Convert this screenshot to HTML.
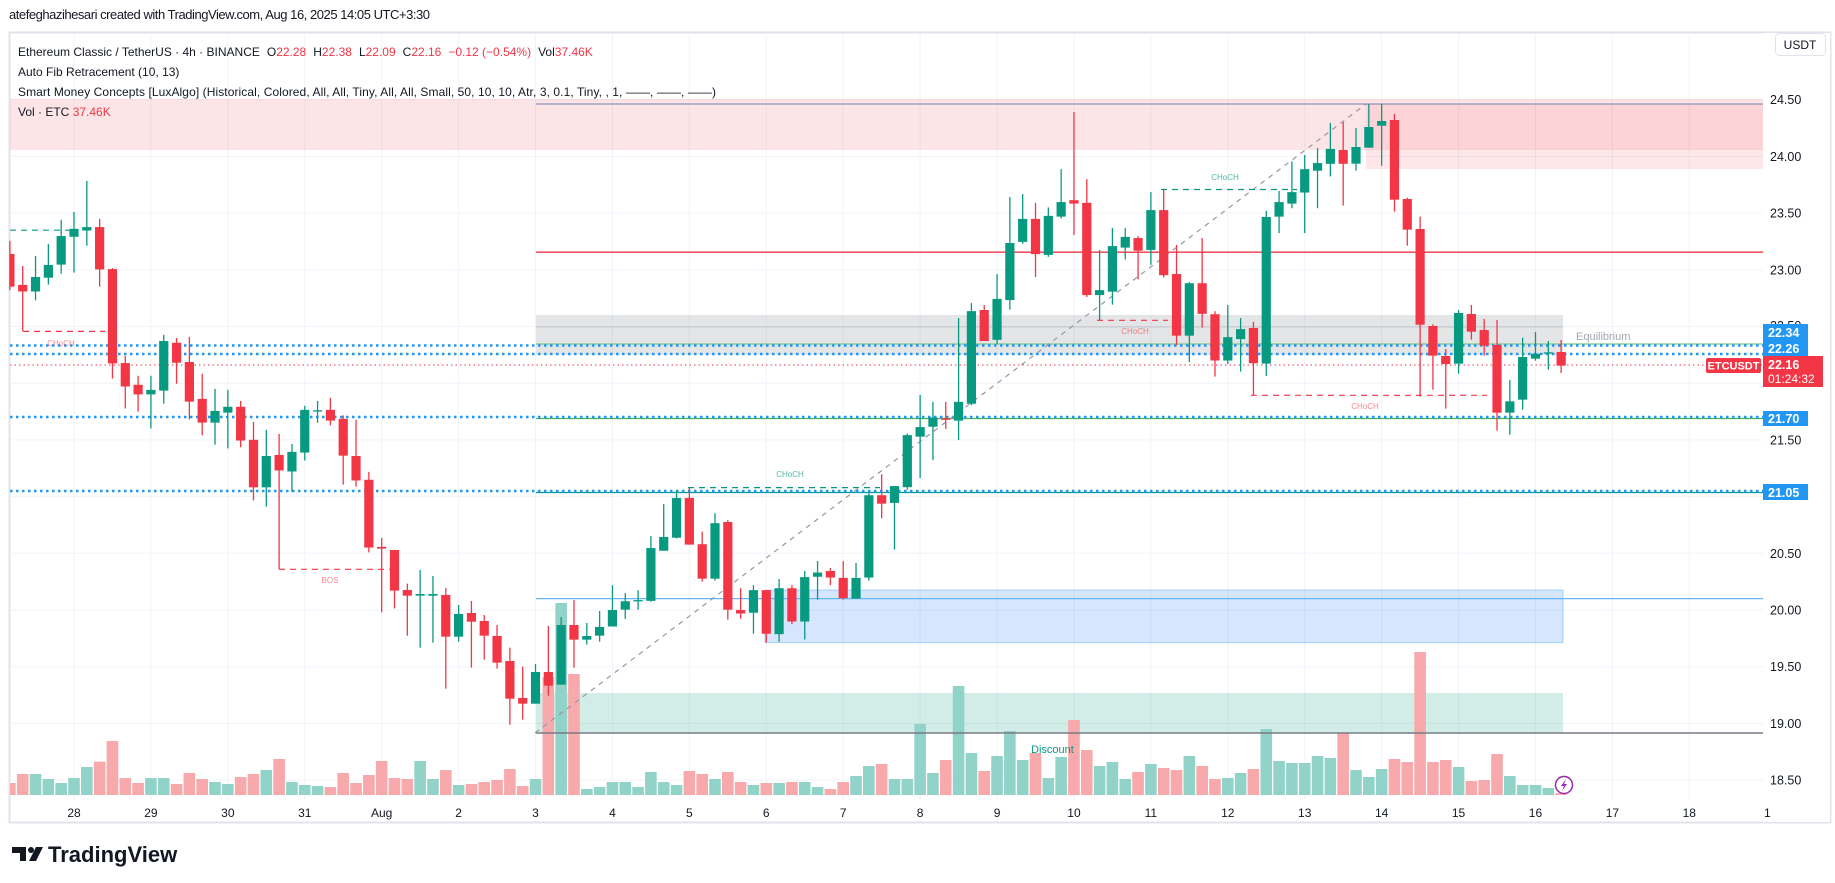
<!DOCTYPE html>
<html><head><meta charset="utf-8"><style>
html,body{margin:0;padding:0;background:#fff;}
svg{display:block;font-family:"Liberation Sans",sans-serif;}
</style></head><body>
<svg id="c" width="1835" height="883" xmlns="http://www.w3.org/2000/svg"></svg>
<script>
const S=document.getElementById('c');let h='';
const Y=p=>99.7+(24.5-p)*113.4;
const X=i=>74+i*12.82;
const GR='#089981',RD='#F23645';
h+='<rect x="9.5" y="32.5" width="1821" height="790" fill="#fff" stroke="#e0e3eb" stroke-width="2"/>';
for(let d=0;d<=22;d++){const x=X(d*6);if(x<1763)h+=`<line x1="${x}" y1="33" x2="${x}" y2="800" stroke="#f0f3fa" stroke-width="1"/>`;}
for(let p=18.5;p<=24.51;p+=0.5){h+=`<line x1="10" y1="${Y(p)}" x2="1763" y2="${Y(p)}" stroke="#f0f3fa"/>`;}
h+='<rect x="10" y="99" width="526" height="51" fill="rgba(242,54,69,0.13)"/>';
h+='<rect x="536" y="99" width="1227" height="51" fill="rgba(242,54,69,0.13)"/>';
h+='<rect x="1366" y="104" width="397" height="45" fill="rgba(242,54,69,0.1)"/>';
h+='<rect x="1366" y="149" width="397" height="20" fill="rgba(242,54,69,0.12)"/>';
h+='<line x1="536" y1="104" x2="1763" y2="104" stroke="#8b93b8" stroke-width="1.2"/>';
h+='<line x1="536" y1="252.2" x2="1763" y2="252.2" stroke="#F23645" stroke-width="1.3"/>';
h+='<rect x="536" y="315" width="1027" height="40" fill="rgba(120,123,134,0.2)"/>';
h+='<line x1="536" y1="327" x2="1563" y2="327" stroke="rgba(120,123,134,0.25)"/>';
h+='<rect x="765" y="590" width="798" height="52.6" fill="rgba(33,120,243,0.19)" stroke="rgba(33,150,243,0.35)"/>';
h+='<line x1="536" y1="598.6" x2="1763" y2="598.6" stroke="#64b5f6" stroke-width="1.2"/>';
h+='<rect x="536" y="693" width="1027" height="40" fill="rgba(8,153,129,0.18)"/>';
const V=[[-5,0,309],[-4,0,282],[-3,1,282],[-2,1,297],[-1,1,309],[0,1,294],[1,1,261],[2,0,245],[3,0,183],[4,0,294],[5,0,309],[6,1,294],[7,1,294],[8,0,312],[9,0,279],[10,0,297],[11,1,306],[12,1,312],[13,0,291],[14,0,282],[15,1,270],[16,0,237],[17,1,306],[18,1,315],[19,1,318],[20,0,321],[21,0,279],[22,0,309],[23,0,285],[24,0,243],[25,0,294],[26,0,297],[27,1,243],[28,1,297],[29,0,270],[30,1,315],[31,0,312],[32,0,306],[33,0,300],[34,0,267],[35,0,318],[36,1,297],[40,1,327],[41,1,321],[42,1,306],[43,1,306],[44,1,321],[45,1,276],[46,1,306],[47,1,315],[48,0,273],[49,0,282],[50,1,297],[51,0,276],[52,0,306],[53,1,315],[54,0,309],[55,1,309],[56,0,306],[57,1,306],[58,1,321],[59,0,327],[60,0,306],[61,1,288],[62,1,258],[63,0,252],[64,1,297],[65,1,297],[66,1,132],[67,1,279],[68,0,240],[69,1,18],[70,1,219],[71,0,273],[72,1,228],[73,1,153],[74,1,240],[75,0,219],[76,1,294],[77,1,231],[78,0,120],[79,0,210],[80,1,258],[81,1,246],[82,1,297],[83,0,276],[84,1,252],[85,0,264],[86,0,270],[87,1,228],[88,0,258],[89,0,297],[90,1,294],[91,1,279],[92,0,267],[93,1,147],[94,1,243],[95,1,249],[96,1,249],[97,1,228],[98,1,234],[99,0,160],[100,1,270],[101,1,291],[102,1,267],[103,0,237],[104,0,246],[106,0,246],[107,0,240],[108,1,261],[109,0,303],[110,0,300],[111,0,222],[112,1,288],[113,1,315],[114,1,315],[115,1,324],[116,0,339]];
const VR=[[37,0,677],[38,1,603],[39,0,674],[105,0,652]];
const vb=(i,g,t)=>{let x=X(i)-5.8,w=11.6;if(x<10){w-=10-x;x=10;}if(w>0)h+=`<rect x="${x}" y="${t}" width="${w}" height="${795-t}" fill="${g?'#92d3c9':'#f7a9ab'}"/>`;};
V.forEach(v=>vb(v[0],v[1],680+v[2]/3));VR.forEach(v=>vb(v[0],v[1],v[2]));
h+='<line x1="536" y1="733" x2="1763" y2="733" stroke="#787b86" stroke-width="1.5"/>';
const dot=(y,c,w,da)=>h+=`<line x1="10" y1="${y}" x2="1763" y2="${y}" stroke="${c}" stroke-width="${w}" stroke-dasharray="${da}"/>`;
h+='<line x1="536" y1="344" x2="1763" y2="344" stroke="#81c784" stroke-width="1.3"/>';
dot(345.5,'#2196f3',2.5,'2.5 3.5');dot(354,'#2196f3',2.5,'2.5 3.5');dot(365,'#F23645',1,'1.5 3');
h+='<line x1="536" y1="418.5" x2="1763" y2="418.5" stroke="#4caf50" stroke-width="1.3"/>';
dot(417,'#2196f3',2.5,'2.5 3.5');
h+='<line x1="536" y1="492.5" x2="1763" y2="492.5" stroke="#0097a7" stroke-width="1.3"/>';
dot(491,'#2196f3',2.5,'2.5 3.5');
h+='<line x1="535" y1="733" x2="1366" y2="104" stroke="#9598a1" stroke-width="1.2" stroke-dasharray="5 5"/>';
const dl=(x1,y1,x2,y2,c)=>h+=`<line x1="${x1}" y1="${y1}" x2="${x2}" y2="${y2}" stroke="${c}" stroke-width="1.2" stroke-dasharray="6 5"/>`;
dl(10,230.2,75,230.2,GR);dl(23,331.4,105,331.4,RD);dl(279,569.3,390,569.3,RD);
dl(688,487.6,880,487.6,GR);dl(1161,189.5,1297,189.5,GR);dl(1097,320.3,1168,320.3,RD);dl(1251,395.3,1487,395.3,RD);
const tl=(x,y,t,c)=>h+=`<text x="${x}" y="${y}" font-size="8" fill="${c}" text-anchor="middle">${t}</text>`;
tl(61,346,'CHoCH','rgba(242,54,69,0.6)');tl(330,583,'BOS','rgba(242,54,69,0.6)');tl(790,477,'CHoCH','rgba(8,153,129,0.7)');
tl(1225,180,'CHoCH','rgba(8,153,129,0.7)');tl(1135,334,'CHoCH','rgba(242,54,69,0.6)');tl(1365,409,'CHoCH','rgba(242,54,69,0.6)');
h+='<text x="1576" y="340" font-size="11" fill="#a3a6af">Equilibrium</text>';
h+='<text x="1031" y="753" font-size="11" fill="#089981">Discount</text>';
const A=y=>140+y/2.905,B=y=>540+y/3,C=y=>80+y/2.613,D=y=>80+y/3;
const K=[];
const add=(f,arr)=>arr.forEach(a=>K.push([a[0],a[1],f(a[2]),f(a[3]),f(a[4]),f(a[5])]));
add(A,[[-5,0,331,426,293,436],[-4,0,421,440,366,556],[-3,1,398,440,337,466],[-2,1,363,400,302,420],[-1,1,279,362,232,388],[0,1,258,281,209,385],[1,1,253,263,119,307],[2,0,253,376,229,426],[3,0,375,649,372,693],[4,0,648,716,627,780],[5,0,711,739,685,789],[6,1,726,739,685,838],[7,1,584,728,566,766],[8,0,589,647,575,708],[9,0,645,760,572,812],[10,0,752,821,679,858],[11,1,787,821,723,885],[12,1,775,792,726,896],[13,0,775,873,758,893],[14,0,871,1009,819,1047],[15,1,918,1009,842,1065],[16,0,915,960,854,1247],[17,1,906,963,883,1022],[18,1,784,908,772,931],[19,1,785,788,758,821],[20,0,784,815,749,829],[21,0,810,917,800,1001],[22,0,918,989,813,1007],[23,0,987,1184,964,1198],[24,0,1182,1187,1156,1372],[25,0,1191,1309,1191,1361]]);
add(B,[[26,0,150,167,131,287],[27,1,162,167,90,323],[28,1,162,167,108,308],[29,0,165,290,144,446],[30,1,222,290,195,305],[31,0,219,245,183,383],[32,0,243,287,225,359],[33,0,288,368,255,386],[34,0,363,476,323,554],[35,0,474,491,380,539],[36,1,396,491,372,491],[37,0,396,437,258,467],[38,1,255,434,231,434],[39,0,255,299,180,383],[40,1,288,299,249,314],[41,1,261,287,213,305]]);
add(C,[[42,1,1385,1428,1320,1428],[43,1,1362,1384,1341,1408],[44,1,1359,1361,1333,1384],[45,1,1223,1361,1192,1363],[46,1,1194,1230,1108,1230],[47,1,1092,1196,1072,1198],[48,0,1092,1214,1064,1214],[49,0,1213,1303,1180,1311],[50,1,1158,1303,1132,1308],[51,0,1155,1384,1150,1410],[52,0,1385,1394,1328,1408],[53,1,1333,1392,1320,1447],[54,0,1333,1447,1333,1470],[55,1,1328,1448,1304,1468],[56,0,1328,1415,1320,1422],[57,1,1299,1415,1283,1462],[58,1,1287,1298,1257,1358],[59,0,1283,1300,1275,1320],[60,0,1301,1354,1257,1358],
[61,1,1301,1355,1262,1355],[62,1,1085,1300,1078,1308],[63,0,1085,1107,1030,1145],[64,1,1061,1105,1061,1227],[65,1,928,1064,924,1070],[66,1,907,932,823,1040],[67,1,882,906,841,993],[68,0,884,888,841,912],[69,1,841,890,622,941],[70,1,604,846,583,850],[71,0,601,682,588,682],[72,1,572,679,507,690],[73,1,426,575,306,600],[74,1,363,423,298,428],[75,0,363,455,321,515],[76,1,355,457,333,462],[77,1,319,357,233,362],[78,0,314,323,84,405],[79,0,321,562,259,567],[80,1,549,562,444,628],[81,1,434,553,387,587],[82,1,410,438,387,469],[83,0,413,446,408,521],[84,1,340,444,293,483],[85,0,340,510,286,516],[86,0,507,668,431,693],[87,1,531,668,528,737],[88,0,531,611,413,647],[89,0,612,733,604,775],[90,1,672,733,588,742],[91,1,651,677,622,762],[92,0,648,740,632,824],[93,1,358,741,342,773],[94,1,319,357,290,400],[95,1,293,323,213,335],[96,1,233,294,196,400],[97,1,217,237,178,335],[98,1,180,219,112,252],[99,0,183,219,110,328]]);
add(D,[[100,1,201,251,144,272],[101,1,141,203,72,203],[102,1,123,137,72,257],[103,0,120,359,102,395],[104,0,357,449,353,497],[105,0,447,734,410,950],[106,0,738,827,733,929],[107,0,828,852,807,986],[108,1,699,851,690,881],[109,0,702,755,675,779],[110,0,750,797,717,827],[111,0,795,998,720,1052],[112,1,964,998,900,1064],[113,1,831,959,773,989],[114,1,821,836,756,842],[115,1,817,821,783,869],[116,0,816,857,780,879]]);
K.forEach(k=>{const [i,g,bt,bb,wt,wb]=k;const c=g?GR:RD;const x=X(i);
 if(x+5<10)return;
 h+=`<line x1="${x}" y1="${wt}" x2="${x}" y2="${wb}" stroke="${c}" stroke-width="1.3"/>`;
 let bx=x-4.6,bw=9.2;if(bx<10){bw-=10-bx;bx=10;}
 h+=`<rect x="${bx}" y="${bt}" width="${bw}" height="${Math.max(1.3,bb-bt)}" fill="${c}"/>`;});
h+='<rect x="1763" y="33" width="67" height="789" fill="#fff"/>';
h+='<rect x="1775.5" y="33.5" width="50" height="22" rx="4" fill="#fff" stroke="#e0e3eb"/>';
h+='<text x="1800" y="49" font-size="12" fill="#131722" text-anchor="middle">USDT</text>';
[24.5,24,23.5,23,21.5,20.5,20,19.5,19,18.5].forEach(p=>h+=`<text x="1770" y="${Y(p)+4.5}" font-size="12.5" fill="#131722">${p.toFixed(2)}</text>`);
h+='<text x="1770" y="330" font-size="12.5" fill="#131722">22.50</text>';
const tag=(y1,y2,c,w)=>{h+=`<rect x="1763" y="${y1}" width="${w}" height="${y2-y1}" fill="${c}"/>`;};
tag(324,340,"#2196f3",45);h+='<text x="1768" y="337" font-size="12.5" font-weight="bold" fill="#fff">22.34</text>';
tag(340,356,"#2196f3",45);h+='<text x="1768" y="353" font-size="12.5" font-weight="bold" fill="#fff">22.26</text>';
tag(356,387,"#F23645",60);h+='<text x="1768" y="369" font-size="12.5" font-weight="bold" fill="#fff">22.16</text><text x="1768" y="383" font-size="12" fill="#fff">01:24:32</text>';
h+='<rect x="1706" y="358" width="55" height="15" rx="2" fill="#F23645"/><text x="1733.5" y="369.5" font-size="11" font-weight="bold" fill="#fff" text-anchor="middle">ETCUSDT</text>';
tag(411,426,"#2196f3",45);h+='<text x="1768" y="423" font-size="12.5" font-weight="bold" fill="#fff">21.70</text>';
tag(484,500,"#2196f3",45);h+='<text x="1768" y="497" font-size="12.5" font-weight="bold" fill="#fff">21.05</text>';
const days=['28','29','30','31','Aug','2','3','4','5','6','7','8','9','10','11','12','13','14','15','16','17','18'];
days.forEach((d,k)=>h+=`<text x="${X(k*6)}" y="817" font-size="12" fill="#131722" text-anchor="middle">${d}</text>`);
h+='<text x="1764" y="817" font-size="12" fill="#131722">1</text>';
h+='<circle cx="1564" cy="785" r="8.5" fill="#fff" stroke="#9c27b0" stroke-width="1.5"/><path d="M1566 779 L1561 786 L1564 786 L1562 791 L1567 784 L1564 784 Z" fill="#9c27b0"/>';
h+='<text x="9" y="19" font-size="13" fill="#131722" textLength="421">atefeghazihesari created with TradingView.com, Aug 16, 2025 14:05 UTC+3:30</text>';
h+='<text x="18" y="56" font-size="12" fill="#131722">Ethereum Classic / TetherUS · 4h · BINANCE<tspan dx="7">O</tspan><tspan fill="#F23645">22.28</tspan><tspan dx="7">H</tspan><tspan fill="#F23645">22.38</tspan><tspan dx="7">L</tspan><tspan fill="#F23645">22.09</tspan><tspan dx="7">C</tspan><tspan fill="#F23645">22.16</tspan><tspan dx="7" fill="#F23645">−0.12 (−0.54%)</tspan><tspan dx="7">Vol</tspan><tspan fill="#F23645">37.46K</tspan></text>';
h+='<text x="18" y="76" font-size="12" fill="#131722">Auto Fib Retracement (10, 13)</text>';
h+='<text x="18" y="96" font-size="12" fill="#131722" textLength="698">Smart Money Concepts [LuxAlgo] (Historical, Colored, All, All, Tiny, All, All, Small, 50, 10, 10, Atr, 3, 0.1, Tiny, , 1, ——, ——, ——)</text>';
h+='<text x="18" y="116" font-size="12" fill="#131722">Vol · ETC <tspan fill="#F23645">37.46K</tspan></text>';
h+='<path d="M12 847 h14 v14 h-6 v-8 h-8z" fill="#131722"/><circle cx="31" cy="850" r="3" fill="#131722"/><path d="M36 847 h7 l-7 14 h-7z" fill="#131722"/>';
h+='<text x="48" y="862" font-size="22" font-weight="bold" fill="#131722">TradingView</text>';
S.innerHTML=h;
</script>
</body></html>
